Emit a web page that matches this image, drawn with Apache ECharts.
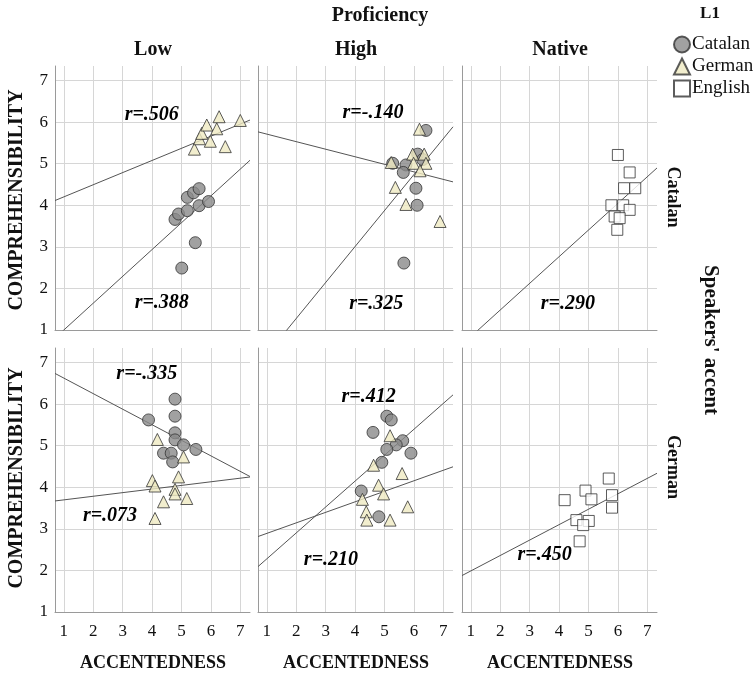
<!DOCTYPE html>
<html><head><meta charset="utf-8">
<script src="https://cdn.jsdelivr.net/npm/echarts@6/dist/echarts.min.js"></script>
<style>html,body{margin:0;padding:0;background:#fff}#c{width:756px;height:676px}</style>
</head><body><div id="c"></div>
<script>
// ---- categories / ticks ----
const proficiencyLevels = ['Low', 'High', 'Native'];
const speakerAccents = ['Catalan', 'German'];
const l1Groups = ['Catalan', 'German', 'English'];
const tickValues = [1, 2, 3, 4, 5, 6, 7];

// ---- data: [accentedness, comprehensibility] ----
// Catalan accent, Low proficiency
const catLow_catalanL1 = [[4.78,3.66],[4.9,3.79],[5.2,4.19],[5.2,3.87],[5.41,4.3],[5.6,4.4],[5.6,3.99],[5.92,4.09],[5.47,3.1],[5.01,2.49]];
const catLow_germanL1 = [[5.44,5.35],[5.61,5.6],[5.69,5.73],[5.86,5.93],[5.98,5.54],[6.2,5.84],[6.28,6.13],[6.49,5.41],[7.0,6.04]];
// Catalan accent, High proficiency
const catHigh_catalanL1 = [[6.41,5.8],[6.13,5.23],[5.73,4.97],[5.64,4.79],[5.28,5.01],[6.07,4.41],[6.11,4.0],[5.66,2.61],[6.3,5.1]];
const catHigh_germanL1 = [[6.19,5.83],[5.96,5.23],[6.35,5.23],[5.99,5.01],[6.41,5.01],[5.23,5.03],[6.21,4.83],[5.37,4.43],[5.73,4.02],[6.89,3.61]];
// Catalan accent, Native
const catNative_englishL1 = [[6.0,5.21],[6.4,4.79],[6.21,4.41],[6.59,4.41],[5.78,4.0],[6.18,4.0],[6.4,3.89],[5.89,3.73],[6.06,3.69],[5.98,3.41]];
// German accent, Low proficiency
const gerLow_catalanL1 = [[4.78,6.12],[3.88,5.62],[4.78,5.71],[4.78,5.31],[4.78,5.14],[5.07,5.02],[5.49,4.91],[4.39,4.82],[4.65,4.82],[4.7,4.61]];
const gerLow_germanL1 = [[4.18,5.15],[5.07,4.73],[4.01,4.16],[4.1,4.03],[4.9,4.25],[4.78,3.95],[4.78,3.84],[5.18,3.73],[4.39,3.65],[4.1,3.25]];
// German accent, High proficiency
const gerHigh_catalanL1 = [[5.08,5.71],[5.23,5.62],[4.61,5.32],[5.62,5.12],[5.4,5.02],[5.08,4.91],[5.9,4.82],[4.91,4.6],[4.21,3.91],[4.81,3.29]];
const gerHigh_germanL1 = [[5.19,5.24],[4.63,4.53],[5.6,4.33],[4.8,4.05],[4.97,3.84],[4.25,3.71],[5.79,3.53],[4.38,3.41],[4.4,3.21],[5.19,3.21]];
// German accent, Native
const gerNative_englishL1 = [[5.69,4.21],[4.9,3.92],[4.19,3.69],[5.1,3.71],[5.8,3.81],[5.8,3.51],[4.59,3.21],[5.01,3.19],[4.82,3.09],[4.7,2.7]];

// ---- fit lines: [intercept, slope] ----
const catLowFits = [[0.355, 0.645], [3.91, 0.292]];
const catHighFits = [[-0.453, 0.865], [5.893, -0.1815]];
const catNativeFits = [[0.199, 0.641]];
const gerLowFits = [[7.0, -0.374], [3.61, 0.087]];
const gerHighFits = [[1.656, 0.623], [2.638, 0.253]];
const gerNativeFits = [[1.617, 0.371]];

// ---- correlation labels: [text, x, y] ----
const catLowR = [['r=.506', 3.99, 6.17], ['r=.388', 4.33, 1.65]];
const catHighR = [['r=-.140', 4.61, 6.22], ['r=.325', 4.72, 1.62]];
const catNativeR = [['r=.290', 4.30, 1.64]];
const gerLowR = [['r=-.335', 3.82, 6.72], ['r=.073', 2.57, 3.31]];
const gerHighR = [['r=.412', 4.46, 6.18], ['r=.210', 3.18, 2.25]];
const gerNativeR = [['r=.450', 3.51, 2.37]];

const panels = [
  { groups: [catLow_catalanL1, catLow_germanL1, null], fits: catLowFits, r: catLowR },
  { groups: [catHigh_catalanL1, catHigh_germanL1, null], fits: catHighFits, r: catHighR },
  { groups: [null, null, catNative_englishL1], fits: catNativeFits, r: catNativeR },
  { groups: [gerLow_catalanL1, gerLow_germanL1, null], fits: gerLowFits, r: gerLowR },
  { groups: [gerHigh_catalanL1, gerHigh_germanL1, null], fits: gerHighFits, r: gerHighR },
  { groups: [null, null, gerNative_englishL1], fits: gerNativeFits, r: gerNativeR }
];

const XMIN = 0.7, XMAX = 7.33, YMIN = 1, YMAX = 7.35;
const SERIF = '"Liberation Serif", "Times New Roman", serif';
const INK = '#111111';
const groupStyle = [
  { symbol: 'circle', symbolSize: 12, itemStyle: { color: '#8a8a8a', borderColor: '#333333', borderWidth: 1 } },
  { symbol: 'triangle', symbolSize: 12, itemStyle: { color: '#efeac2', borderColor: '#333333', borderWidth: 1 } },
  { symbol: 'rect', symbolSize: 11, itemStyle: { color: '#ffffff', borderColor: '#333333', borderWidth: 1 } }
];

const lefts = [55, 258, 462];
const tops = [66, 348];
const grids = [], xAxes = [], yAxes = [], series = [];
panels.forEach((p, i) => {
  const row = Math.floor(i / 3), col = i % 3;
  grids.push({ left: lefts[col], top: tops[row], width: 195, height: 264 });
  xAxes.push({
    type: 'value', gridIndex: i, min: XMIN, max: XMAX,
    axisLine: { show: true, lineStyle: { color: '#9a9a9a', width: 1 } },
    axisTick: { show: false, customValues: tickValues },
    axisLabel: { show: row === 1, customValues: tickValues, margin: 11, fontFamily: SERIF, fontSize: 17, color: INK },
    splitLine: { show: true, lineStyle: { color: '#d6d6d6', width: 1 } }
  });
  yAxes.push({
    type: 'value', gridIndex: i, min: YMIN, max: YMAX,
    axisLine: { show: true, lineStyle: { color: '#9a9a9a', width: 1 } },
    axisTick: { show: false, customValues: tickValues },
    axisLabel: { show: col === 0, customValues: tickValues, margin: 7, fontFamily: SERIF, fontSize: 17, color: INK },
    splitLine: { show: true, lineStyle: { color: '#d6d6d6', width: 1 } }
  });
  p.fits.forEach(f => {
    series.push({
      type: 'line', xAxisIndex: i, yAxisIndex: i, silent: true, symbol: 'none', clip: true,
      lineStyle: { color: '#555555', width: 1 },
      data: [[XMIN, f[0] + f[1] * XMIN], [XMAX, f[0] + f[1] * XMAX]], z: 3
    });
  });
  p.groups.forEach((g, k) => {
    if (!g) return;
    series.push(Object.assign({
      type: 'scatter', name: l1Groups[k], xAxisIndex: i, yAxisIndex: i, data: g, z: 4
    }, JSON.parse(JSON.stringify(groupStyle[k]))));
  });
  series.push({
    type: 'scatter', xAxisIndex: i, yAxisIndex: i, silent: true, symbolSize: 1,
    itemStyle: { color: 'transparent' }, z: 6,
    data: p.r.map(r => ({ value: [r[1], r[2]], label: { formatter: r[0] } })),
    label: { show: true, position: 'inside', fontFamily: SERIF, fontSize: 20, fontWeight: 'bold', fontStyle: 'italic',
             color: '#000000', opacity: 1, textBorderWidth: 0 }
  });
});

function txt(text, x, y, size, opts) {
  opts = opts || {};
  return {
    type: 'text', x: x, y: y, rotation: opts.rot || 0, z: 10,
    style: {
      text: text, fill: INK,
      font: (opts.weight || 'bold') + ' ' + size + 'px ' + SERIF,
      align: 'center', verticalAlign: 'middle', textAlign: 'center', textVerticalAlign: 'middle'
    }
  };
}
const graphics = [
  txt('Proficiency', 380, 16, 20),
  txt(proficiencyLevels[0], 153, 50, 20),
  txt(proficiencyLevels[1], 356, 50, 20),
  txt(proficiencyLevels[2], 560, 50, 20),
  txt('L1', 710, 14, 17),
  txt('COMPREHENSIBILITY', 17, 200, 20, { rot: Math.PI / 2 }),
  txt('COMPREHENSIBILITY', 17, 478, 20, { rot: Math.PI / 2 }),
  txt('ACCENTEDNESS', 153, 663, 18),
  txt('ACCENTEDNESS', 356, 663, 18),
  txt('ACCENTEDNESS', 560, 663, 18),
  txt(speakerAccents[0], 673, 197, 18, { rot: -Math.PI / 2 }),
  txt(speakerAccents[1], 673, 467, 18, { rot: -Math.PI / 2 }),
  txt("Speakers' accent", 710, 340, 21, { rot: -Math.PI / 2 })
];

const chart = echarts.init(document.getElementById('c'), null, { renderer: 'canvas' });
chart.setOption({
  animation: false,
  backgroundColor: '#ffffff',
  grid: grids, xAxis: xAxes, yAxis: yAxes, series: series,
  legend: {
    data: l1Groups, orient: 'vertical', left: 668, top: 30,
    itemWidth: 16, itemHeight: 16, itemGap: 3,
    textStyle: { fontFamily: SERIF, fontSize: 19, color: INK, padding: [0, 0, 0, -3] }
  },
  graphic: graphics
});
</script></body></html>
